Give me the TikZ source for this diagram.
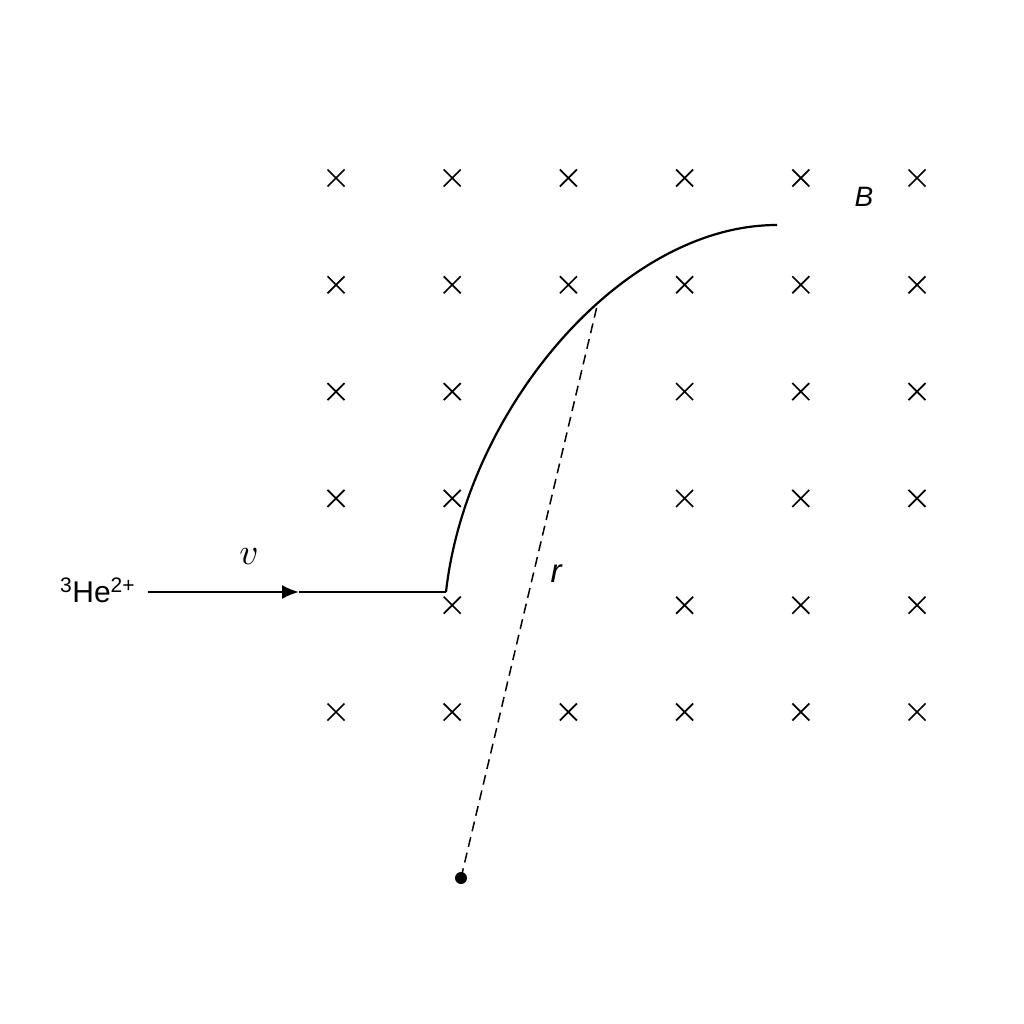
\documentclass[tikz,border=0pt]{standalone}
\usepackage{fontspec}
\setmainfont{Liberation Sans}
\usetikzlibrary{arrows.meta}
\begin{document}
\begin{tikzpicture}[x=1pt,y=-1pt,
  crossmark/.style={line width=1.7pt},
  path/.style={line width=2.2pt},
  radius line/.style={line width=1.5pt, dash pattern=on 10pt off 6pt},
  lbl/.style={inner sep=0pt}]
\useasboundingbox (0,0) rectangle (1024,1024);
\fill[white] (0,0) rectangle (1024,1024);
% crosses
\foreach \i in {0,...,5}{
  \foreach \j in {0,...,5}{
    \pgfmathsetmacro{\cx}{336+116.2*\i}
    \pgfmathsetmacro{\cy}{178+106.8*\j}
    \pgfmathtruncatemacro{\skip}{
      (\i==2 && \j==2) || (\i==2 && \j==3) || (\i==0 && \j==4) || (\i==2 && \j==4) ? 1 : 0}
    \ifnum\skip=0
      \draw[crossmark] (\cx-8.5,\cy-8.5) -- (\cx+8.5,\cy+8.5) (\cx-8.5,\cy+8.5) -- (\cx+8.5,\cy-8.5);
    \fi
  }
}
% coordinates
\coordinate (start) at (148,592);
\coordinate (tip) at (299,592);
\coordinate (corner) at (446,592);
\coordinate (finish) at (777,225);
\coordinate (onarc) at (598,302);
\coordinate (center) at (461,878);
% path of particle
\draw[path, -{Latex[length=17pt,width=14pt]}] (start) -- (tip);
\draw[path] (tip) -- (corner);
\draw[path, line join=miter] (corner) .. controls (466,412) and (620,225) .. (finish);
% radius
\draw[radius line] (center) -- (onarc);
\fill (center) circle (6pt);
% labels
\node[lbl, anchor=base west, font=\fontsize{30}{30}\selectfont] (he) at (60,602) {\textsuperscript{3}He\textsuperscript{2+}};
\node[lbl, scale=3.7] (v) at (249,557) {$v$};
\node[lbl, font=\fontsize{33}{33}\selectfont\itshape] (r) at (556,574) {r};
\node[lbl, font=\fontsize{28}{28}\selectfont\itshape] (B) at (864,197) {B};
\end{tikzpicture}
\end{document}
